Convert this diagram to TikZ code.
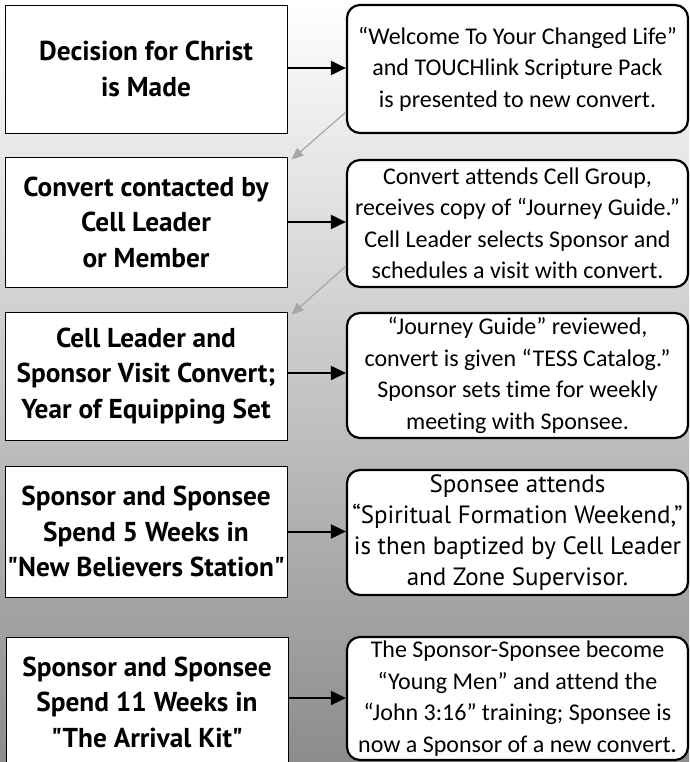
\documentclass[tikz,border=0pt]{standalone}
\usepackage{fontspec}
\setmainfont{Carlito}[Ligatures=CommonOff]
\newfontfamily\leftfont{PT Sans}
\newfontfamily\widefont{PT Sans}
\usetikzlibrary{arrows.meta,calc}
\begin{document}
\begin{tikzpicture}[x=1pt,y=-1pt,
  leftbox/.style={draw=black, line width=0.8pt, fill=white, minimum width=282pt, inner sep=1pt, align=center, font=\leftfont\bfseries\fontsize{27.3}{35.5}\selectfont},
  rightbox/.style={draw=black, line width=2.2pt, fill=white, rounded corners=13pt, minimum width=341pt, inner sep=1pt, align=center, font=\fontsize{24}{31.5}\selectfont},
  blackarrow/.style={line width=2pt, -{Triangle[length=15pt,width=14pt]}},
  grayarrow/.style={draw=gray!70, line width=1.2pt, -{Triangle[length=12pt,width=10pt]}}]
\useasboundingbox (0,0) rectangle (689,762);
\clip (0,0) rectangle (689,762);
\shade[top color=white, middle color=gray!50, bottom color=gray!90] (0,0) rectangle (689,762);
% left boxes
\node[leftbox, minimum height=128pt] (l1) at (146,69) {Decision for Christ\\is Made};
\node[leftbox, minimum height=130pt] (l2) at (146,222) {Convert contacted by\\Cell Leader\\or Member};
\node[leftbox, minimum height=128pt] (l3) at (146,376) {Cell Leader and\\Sponsor Visit Convert;\\Year of Equipping Set};
\node[leftbox, minimum height=131pt] (l4) at (146,531.5) {Sponsor and Sponsee\\Spend 5 Weeks in\\"New Believers Station"};
\node[leftbox, minimum height=130pt] (l5) at (147,702) {Sponsor and Sponsee\\Spend 11 Weeks in\\"The Arrival Kit"};
% right boxes
\node[rightbox, minimum height=128pt] (r1) at (517.5,69) {“Welcome To Your Changed Life”\\and TOUCHlink Scripture Pack\\is presented to new convert.};
\node[rightbox, minimum height=127pt] (r2) at (517.5,223.5) {Convert attends Cell Group,\\receives copy of “Journey Guide.”\\Cell Leader selects Sponsor and\\schedules a visit with convert.};
\node[rightbox, minimum height=125pt] (r3) at (517.5,375.5) {“Journey Guide” reviewed,\\convert is given “TESS Catalog.”\\Sponsor sets time for weekly\\meeting with Sponsee.};
\node[rightbox, minimum height=125pt, font=\widefont\fontsize{25}{31}\selectfont] (r4) at (517.5,532.5) {Sponsee attends\\“Spiritual Formation Weekend,”\\is then baptized by Cell Leader\\and Zone Supervisor.};
\node[rightbox, minimum height=123pt] (r5) at (517.5,698.5) {The Sponsor-Sponsee become\\“Young Men” and attend the\\“John 3:16” training; Sponsee is\\now a Sponsor of a new convert.};
% black arrows
\draw[blackarrow] ([yshift=1pt]l1.east) -- ([yshift=1pt]l1.east -| r1.west);
\draw[blackarrow] (l2.east) -- (l2.east -| r2.west);
\draw[blackarrow] ([yshift=3pt]l3.east) -- ([yshift=3pt]l3.east -| r3.west);
\draw[blackarrow] (l4.east) -- (l4.east -| r4.west);
\draw[blackarrow] ([yshift=4pt]l5.east) -- ([yshift=4pt]l5.east -| r5.west);
% gray arrows
\draw[grayarrow] ([yshift=22pt]r1.south west) -- ([xshift=4pt,yshift=-3pt]l2.north east);
\draw[grayarrow] ([yshift=22pt]r2.south west) -- ([xshift=4pt,yshift=-3pt]l3.north east);
\end{tikzpicture}
\end{document}
